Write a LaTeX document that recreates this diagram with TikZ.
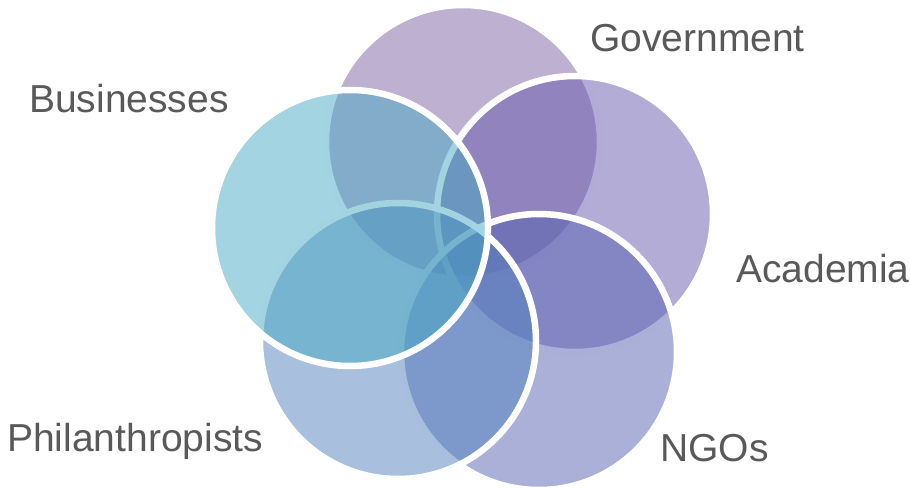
\documentclass[tikz,border=0pt]{standalone}
\usepackage{fontspec}
\setmainfont{Liberation Sans}
\definecolor{govcol}{RGB}{125,97,161}
\definecolor{acadcol}{RGB}{101,89,173}
\definecolor{ngocol}{RGB}{85,97,177}
\definecolor{philcol}{RGB}{81,129,189}
\definecolor{buscol}{RGB}{71,169,195}
\definecolor{textgrey}{RGB}{89,89,89}
\begin{document}
\begin{tikzpicture}[x=1pt,y=1pt]
    % Styles
        \tikzstyle{disc} = [draw=white, line width=6.5pt, fill opacity=0.5]
        \tikzstyle{heading} = [text=textgrey, font=\fontsize{39}{47}\selectfont, inner sep=0pt, anchor=base west]
    \useasboundingbox (0,0) rectangle (910,-489);
    % centres of the five discs
        \coordinate (gov) at (463,-142);
        \coordinate (acad) at (575,-214);
        \coordinate (ngo) at (539,-352);
        \coordinate (phil) at (398,-341);
        \coordinate (bus) at (350,-228);
    % discs, each rim lying over the discs before it
        \filldraw [disc, fill=govcol] (gov) circle (137);
        \filldraw [disc, fill=acadcol] (acad) circle (138);
        \filldraw [disc, fill=ngocol] (ngo) circle (138);
        \filldraw [disc, fill=philcol] (phil) circle (138);
        \filldraw [disc, fill=buscol] (bus) circle (138);
    % labels
        \node [heading] (govlabel) at (590,-52) {Government};
        \node [heading] (buslabel) at (29,-113) {Businesses};
        \node [heading] (acadlabel) at (736,-282) {Academia};
        \node [heading] (ngolabel) at (660,-461) {NGOs};
        \node [heading] (phillabel) at (7,-451) {Philanthropists};
\end{tikzpicture}
\end{document}
